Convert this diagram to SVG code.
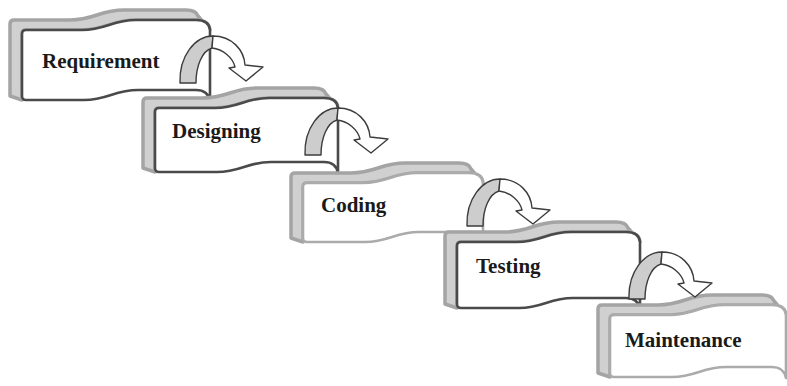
<svg xmlns="http://www.w3.org/2000/svg" width="787" height="386" viewBox="0 0 787 386">
<style>
.back{fill:#d0d0d0;stroke:#a4a4a4;stroke-width:3.5;stroke-linejoin:round}
.front{fill:#ffffff;stroke:#4a4a4a;stroke-width:2.6;stroke-linejoin:round}
.front.light{stroke:#ababab}
.lbl{font-family:"Liberation Serif","Times New Roman",serif;font-weight:bold;font-size:21px;fill:#1a1a1a}
.leg{fill:#cdcdcd;stroke:#3c3c3c;stroke-width:1.4;stroke-linejoin:round}
.head{fill:#ffffff;stroke:#3c3c3c;stroke-width:1.4;stroke-linejoin:round}
</style>
<rect width="787" height="386" fill="#ffffff"/>
<g id="requirement" transform="translate(22,30)">
<path class="back" d="M-12,-6 Q-12,-10 -8,-10 L48,-10 C72,-10 78,-20 102,-20 L164,-20 Q174,-20 176,-14 L188,0 Q187,-10 174,-10 L114,-10 C90,-10 84,0 60,0 L4,0 Q0,0 0,4 L0,70 L-12,66 Z"/>
<path class="front" d="M0,4 Q0,0 4,0 L60,0 C84,0 90,-10 114,-10 L174,-10 Q187,-10 188,0 L188,71 Q186,60 174,60 L116,60 C92,60 86,70 62,70 L4,70 Q0,70 0,66 Z"/>
<text class="lbl" x="20" y="38">Requirement</text>
</g>
<g id="designing" transform="translate(155,108)">
<path class="back" d="M-12,-6 Q-12,-10 -8,-10 L48,-10 C72,-10 78,-20 102,-20 L159,-20 Q169,-20 171,-14 L183,0 Q182,-10 169,-10 L114,-10 C90,-10 84,0 60,0 L4,0 Q0,0 0,4 L0,64 L-12,60 Z"/>
<path class="front" d="M0,4 Q0,0 4,0 L60,0 C84,0 90,-10 114,-10 L169,-10 Q182,-10 183,0 L183,65 Q181,54 169,54 L116,54 C92,54 86,64 62,64 L4,64 Q0,64 0,60 Z"/>
<text class="lbl" x="17" y="30">Designing</text>
</g>
<g id="coding" transform="translate(303,183)">
<path class="back" d="M-12,-6 Q-12,-10 -8,-10 L48,-10 C72,-10 78,-20 102,-20 L156,-20 Q166,-20 168,-14 L180,0 Q179,-10 166,-10 L114,-10 C90,-10 84,0 60,0 L4,0 Q0,0 0,4 L0,59 L-12,55 Z"/>
<path class="front light" d="M0,4 Q0,0 4,0 L60,0 C84,0 90,-10 114,-10 L166,-10 Q179,-10 180,0 L180,60 Q178,49 166,49 L116,49 C92,49 86,59 62,59 L4,59 Q0,59 0,55 Z"/>
<text class="lbl" x="18" y="29">Coding</text>
</g>
<g id="testing" transform="translate(457,242)">
<path class="back" d="M-12,-6 Q-12,-10 -8,-10 L48,-10 C72,-10 78,-20 102,-20 L159,-20 Q169,-20 171,-14 L183,0 Q182,-10 169,-10 L114,-10 C90,-10 84,0 60,0 L4,0 Q0,0 0,4 L0,66 L-12,62 Z"/>
<path class="front" d="M0,4 Q0,0 4,0 L60,0 C84,0 90,-10 114,-10 L169,-10 Q182,-10 183,0 L183,67 Q181,56 169,56 L116,56 C92,56 86,66 62,66 L4,66 Q0,66 0,62 Z"/>
<text class="lbl" x="19" y="31">Testing</text>
</g>
<g id="maintenance" transform="translate(610,315)">
<path class="back" d="M-12,-6 Q-12,-10 -8,-10 L48,-10 C72,-10 78,-20 102,-20 L152,-20 Q162,-20 164,-14 L176,0 Q175,-10 162,-10 L114,-10 C90,-10 84,0 60,0 L4,0 Q0,0 0,4 L0,62 L-12,58 Z"/>
<path class="front light" d="M0,4 Q0,0 4,0 L60,0 C84,0 90,-10 114,-10 L162,-10 Q175,-10 176,0 L176,63 Q174,52 162,52 L116,52 C92,52 86,62 62,62 L4,62 Q0,62 0,58 Z"/>
<text class="lbl" x="15" y="32">Maintenance</text>
</g>
<defs>
<g id="curl">
<path class="leg" d="M-33,47 C-34,20 -18,0 0,0 L-1,12 C-11,15 -17,30 -17,47 Z"/>
<path class="head" d="M0,0 C19,0 31,14 32,29 L50,31 L33,45 L16,32 L22,31 C20,22 10,13 -1,12 Z"/>
</g>
</defs>
<g id="connectors">
<use href="#curl" transform="translate(213,36)"/>
<use href="#curl" transform="translate(338,108)"/>
<use href="#curl" transform="translate(500,179)"/>
<use href="#curl" transform="translate(662,252)"/>
</g>
</svg>
